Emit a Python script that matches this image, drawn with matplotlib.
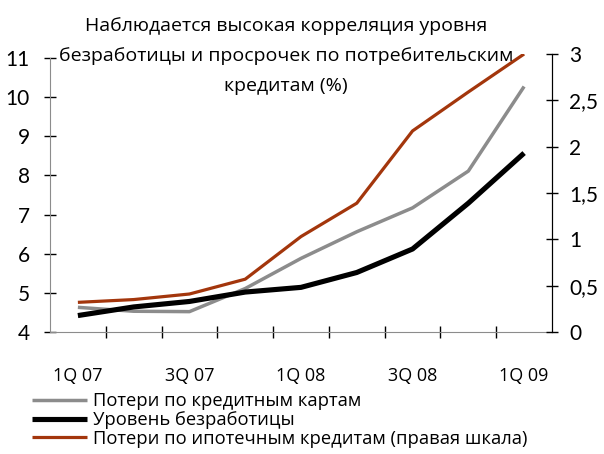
import matplotlib
matplotlib.use('Agg')
import matplotlib.pyplot as plt
from matplotlib.ticker import FixedLocator, FuncFormatter

plt.rcParams['font.family'] = ['Lato', 'DejaVu Sans']
TEXT_FONT = ['Open Sans', 'DejaVu Sans']

# quarters
quarters = ['1Q 07', '2Q 07', '3Q 07', '4Q 07', '1Q 08', '2Q 08', '3Q 08', '4Q 08', '1Q 09']
shown_labels = ['1Q 07', '3Q 07', '1Q 08', '3Q 08', '1Q 09']

# left axis series
card_losses = [4.63, 4.53, 4.52, 5.11, 5.88, 6.56, 7.17, 8.11, 10.27]
unemployment = [4.42, 4.64, 4.78, 5.02, 5.14, 5.52, 6.12, 7.29, 8.57]
# right axis series
mortgage_losses = [0.32, 0.35, 0.41, 0.57, 1.03, 1.39, 2.17, 2.59, 3.0]

title = ('Наблюдается высокая корреляция уровня\n'
         'безработицы и просрочек по потребительским\n'
         'кредитам (%)')
names = ['Потери по кредитным картам',
         'Уровень безработицы',
         'Потери по ипотечным кредитам (правая шкала)']

GRAY = '#8c8c8c'
RUST = '#a3360c'

fig = plt.figure(figsize=(6.04, 4.54), dpi=100)
ax = fig.add_axes([50 / 604, 1 - 332 / 454, 502 / 604, 278 / 454])
ax2 = ax.twinx()

x = list(range(len(quarters)))
l1, = ax.plot(x, card_losses, color=GRAY, lw=2.5, solid_capstyle='butt')
l2, = ax.plot(x, unemployment, color='black', lw=3.7, solid_capstyle='butt')
l3, = ax2.plot(x, mortgage_losses, color=RUST, lw=2.3, solid_capstyle='butt')

ax.set_xlim(-0.5, len(quarters) - 0.5)
ax.set_ylim(4, 11.1)
ax.set_yticks(range(4, 12))
ax2.set_ylim(0, 3)
ax2.set_yticks([0, 0.5, 1, 1.5, 2, 2.5, 3])
ax2.yaxis.set_major_formatter(FuncFormatter(lambda v, p: ('%g' % v).replace('.', ',')))

# category labels every other quarter, tick marks between categories
ax.set_xticks([quarters.index(q) for q in shown_labels])
ax.set_xticklabels(shown_labels, family=TEXT_FONT)
ax.xaxis.set_minor_locator(FixedLocator([i + 0.5 for i in range(len(quarters) - 1)]))
ax.tick_params(axis='x', which='major', length=0, pad=25, labelsize=13)
ax.tick_params(axis='x', which='minor', length=9, direction='inout', color='black', width=1)
ax.tick_params(axis='y', length=9, direction='inout', width=1, labelsize=15, pad=10)
ax2.tick_params(axis='y', length=9, direction='inout', width=1, labelsize=15, pad=8)

for a in (ax, ax2):
    a.spines['top'].set_visible(False)
ax.spines['left'].set_color(GRAY)
ax.spines['left'].set_bounds(4, 11)
ax.spines['bottom'].set_color(GRAY)
ax2.spines['left'].set_visible(False)
ax2.spines['bottom'].set_visible(False)
ax2.spines['right'].set_color('black')

fig.text(286 / 604, 1 - 56 / 454, title, ha='center', va='center', fontsize=14,
         linespacing=1.85, family=TEXT_FONT)

fig.legend([l1, l2, l3], names, loc='upper left', bbox_to_anchor=(32 / 604, 1 - 392 / 454),
           frameon=False, prop={'family': TEXT_FONT, 'size': 13.2}, handlelength=3.0,
           handletextpad=0.32, labelspacing=0.05, borderpad=0, borderaxespad=0)

fig.savefig('out.png', dpi=100)
